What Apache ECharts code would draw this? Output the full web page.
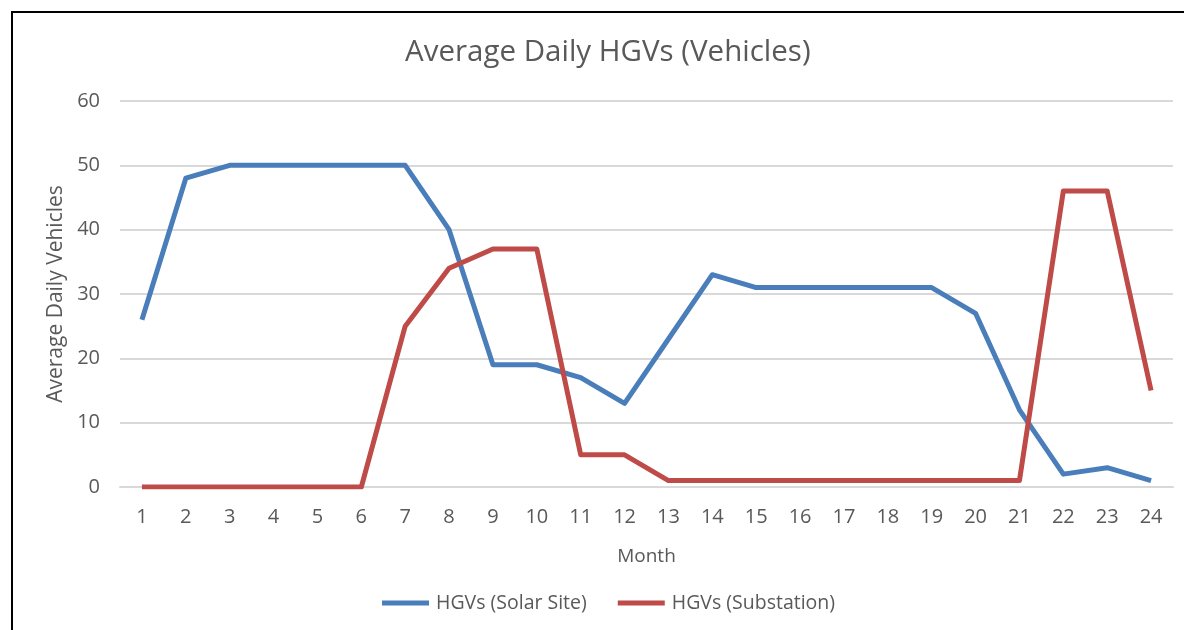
<!DOCTYPE html>
<html><head><meta charset="utf-8">
<script src="https://cdn.jsdelivr.net/npm/echarts@6/dist/echarts.min.js"></script>
<style>
html,body{margin:0;padding:0;background:#fff;}
#wrap{position:relative;width:1184px;height:630px;overflow:hidden;}
#frame{position:absolute;left:11px;top:11px;width:1200px;height:700px;border-left:2px solid #000;border-top:2px solid #000;}
#chart{position:absolute;left:0;top:0;width:1184px;height:630px;}
</style></head>
<body><div id="wrap"><div id="frame"></div><div id="chart"></div></div>
<script>
const months = ['1','2','3','4','5','6','7','8','9','10','11','12','13','14','15','16','17','18','19','20','21','22','23','24'];
const solarSite = [26,48,50,50,50,50,50,40,19,19,17,13,23,33,31,31,31,31,31,27,12,2,3,1];
const substation = [0,0,0,0,0,0,25,34,37,37,5,5,1,1,1,1,1,1,1,1,1,46,46,15];
const yTicks = [0,10,20,30,40,50,60];
const seriesNames = ['HGVs (Solar Site)','HGVs (Substation)'];
const FONT = '"Open Sans", "Liberation Sans", sans-serif';
const chart = echarts.init(document.getElementById('chart'), null, {renderer:'canvas'});
chart.setOption({
  backgroundColor:'transparent',
  animation:false,
  title:{text:'Average Daily HGVs (Vehicles)',left:400,top:33,
    textStyle:{color:'#595959',fontSize:29.5,fontWeight:'normal',fontFamily:FONT}},
  grid:{left:120,right:11,top:101,bottom:143},
  legend:{bottom:12,left:377,itemWidth:47,itemHeight:5,itemGap:31,icon:'rect',
    textStyle:{color:'#595959',fontSize:19.5,fontFamily:FONT,padding:[0,0,0,2]},data:seriesNames},
  xAxis:{type:'category',data:months,boundaryGap:true,
    name:'Month',nameLocation:'middle',nameGap:60,
    nameTextStyle:{color:'#595959',fontSize:19,fontFamily:FONT},
    axisLine:{lineStyle:{color:'#d9d9d9',width:2}},axisTick:{show:false},
    axisLabel:{color:'#595959',fontSize:20,fontFamily:FONT,margin:20}},
  yAxis:{type:'value',min:yTicks[0],max:yTicks[yTicks.length-1],interval:10,
    name:'Average Daily Vehicles',nameLocation:'middle',nameGap:50,
    nameTextStyle:{color:'#595959',fontSize:21,fontFamily:FONT},
    axisLine:{show:false},axisTick:{show:false},
    axisLabel:{color:'#595959',fontSize:20,fontFamily:FONT,margin:20},
    splitLine:{lineStyle:{color:'#d9d9d9',width:2}}},
  series:[
    {name:seriesNames[0],type:'line',data:solarSite,symbol:'none',
      lineStyle:{color:'#4a7ebb',width:5,join:'round'},itemStyle:{color:'#4a7ebb'}},
    {name:seriesNames[1],type:'line',data:substation,symbol:'none',
      lineStyle:{color:'#be4b48',width:5,join:'round'},itemStyle:{color:'#be4b48'}}
  ]
});
</script></body></html>
